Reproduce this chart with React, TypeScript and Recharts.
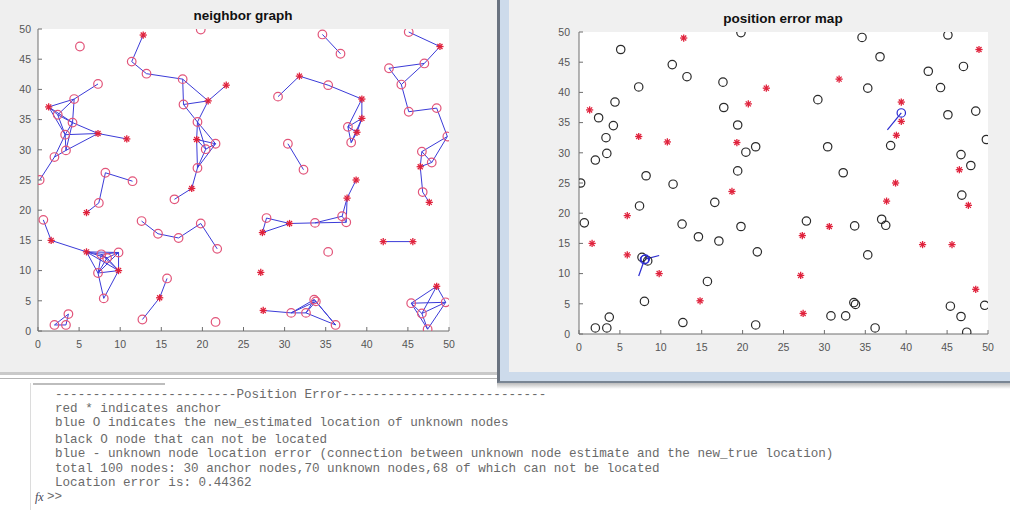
import { ScatterChart, Scatter, XAxis, YAxis, ReferenceLine } from 'recharts'

// node positions (same field, 50 x 50)
const anchors: [string, number, number][] = [
  ['A1', 12.8, 49.0], ['A2', 20.7, 38.1], ['A3', 1.3, 37.1], ['A4', 7.3, 32.7],
  ['A5', 10.8, 31.8], ['A6', 19.3, 31.7], ['A7', 18.7, 23.6], ['A8', 5.9, 19.6],
  ['A9', 1.6, 15.0], ['A10', 5.9, 13.1], ['A11', 9.8, 10.0], ['A12', 14.8, 5.5],
  ['A13', 48.9, 47.1], ['A14', 31.8, 42.2], ['A15', 22.9, 40.7], ['A16', 39.4, 38.4],
  ['A17', 39.4, 35.2], ['A18', 38.8, 32.9], ['A19', 46.5, 27.2], ['A20', 38.7, 25.0],
  ['A21', 37.6, 22.0], ['A22', 47.6, 21.3], ['A23', 30.6, 17.8], ['A24', 27.3, 16.3],
  ['A25', 42.0, 14.8], ['A26', 45.6, 14.8], ['A27', 27.1, 9.7], ['A28', 48.5, 7.4],
  ['A29', 27.4, 3.4],
]

const unknowns: [string, number, number][] = [
  ['U1', 19.8, 49.9], ['U2', 5.1, 47.1], ['U3', 11.4, 44.6], ['U4', 13.2, 42.6],
  ['U5', 17.6, 41.7], ['U6', 7.3, 40.9], ['U7', 4.4, 38.4], ['U8', 17.7, 37.5],
  ['U9', 2.4, 35.8], ['U10', 4.2, 34.5], ['U11', 19.4, 34.6], ['U12', 3.3, 32.5],
  ['U13', 21.6, 31.0], ['U14', 20.4, 30.1], ['U15', 3.4, 29.9], ['U16', 2.0, 28.8],
  ['U17', 8.2, 26.2], ['U18', 19.4, 27.0], ['U19', 0.2, 25.0], ['U20', 11.5, 24.8],
  ['U21', 7.4, 21.2], ['U22', 16.6, 21.8], ['U23', 0.65, 18.4], ['U24', 12.6, 18.2],
  ['U25', 19.8, 17.8], ['U26', 14.6, 16.1], ['U27', 17.1, 15.4], ['U28', 21.8, 13.6],
  ['U29', 15.7, 8.7], ['U30', 8.0, 5.4], ['U31', 3.7, 2.8], ['U32', 12.7, 1.9],
  ['U33', 2.0, 1.0], ['U34', 3.4, 1.0], ['U35', 21.6, 1.5], ['U36', 34.6, 49.1],
  ['U37', 45.1, 49.5], ['U38', 36.8, 45.9], ['U39', 42.7, 43.5], ['U40', 47.0, 44.3],
  ['U41', 35.3, 40.7], ['U42', 44.2, 40.8], ['U43', 29.2, 38.8], ['U44', 45.1, 36.3],
  ['U45', 48.5, 36.9], ['U46', 30.4, 31.0], ['U47', 38.1, 31.2], ['U48', 49.8, 32.2],
  ['U49', 46.7, 29.7], ['U50', 47.9, 27.9], ['U51', 32.3, 26.7], ['U52', 46.8, 23.0],
  ['U53', 27.8, 18.7], ['U54', 33.7, 17.9], ['U55', 37.0, 19.0], ['U56', 37.5, 18.0],
  ['U57', 35.3, 13.1], ['U58', 33.6, 5.2], ['U59', 33.8, 4.9], ['U60', 45.4, 4.6],
  ['U61', 49.6, 4.75], ['U62', 30.8, 3.0], ['U63', 32.6, 3.0], ['U64', 46.7, 2.9],
  ['U65', 36.2, 1.0], ['U66', 47.4, 0.3], ['U67', 7.7, 12.7], ['U68', 8.4, 12.1],
]

// unknown nodes that got located: true position and estimate
const located: [string, number, number][] = [
  ['L1', 9.8, 13.0], ['L2', 7.3, 9.6], ['L3', 37.7, 33.8],
]
const estimates: [string, number, number][] = [
  ['L1', 8.1, 12.4], ['L2', 8.0, 12.3], ['L3', 39.4, 36.6],
]

const edges: [string, string][] = [
  ['A3', 'U9'], ['A3', 'U7'], ['A3', 'U10'], ['A3', 'U12'], ['U9', 'U7'], ['U9', 'U10'],
  ['U9', 'U12'], ['U7', 'U6'], ['U7', 'U10'], ['U10', 'U12'], ['U10', 'A4'], ['U10', 'U15'],
  ['U12', 'U15'], ['U12', 'U16'], ['U12', 'A4'], ['U15', 'U16'], ['U15', 'A4'], ['U16', 'U19'],
  ['A4', 'A5'], ['U17', 'U20'], ['U17', 'U21'], ['U21', 'A8'],
  ['A1', 'U3'], ['U3', 'U4'], ['U4', 'U5'], ['U5', 'U8'], ['U5', 'A2'], ['U8', 'A2'],
  ['A2', 'A15'], ['U8', 'U11'], ['A2', 'U11'], ['U11', 'A6'], ['U11', 'U13'], ['U11', 'U14'],
  ['A6', 'U13'], ['A6', 'U14'], ['U13', 'U14'], ['A6', 'U18'], ['U14', 'U18'], ['U13', 'U18'],
  ['U18', 'A7'], ['A7', 'U22'],
  ['U24', 'U26'], ['U26', 'U27'], ['U27', 'U25'], ['U25', 'U28'],
  ['A9', 'U23'], ['A9', 'A10'], ['A10', 'L1'], ['A10', 'L2'], ['A10', 'A11'], ['L1', 'L2'],
  ['L1', 'A11'], ['L2', 'A11'], ['L2', 'U30'], ['A11', 'U30'], ['U67', 'A10'], ['U67', 'L1'],
  ['U67', 'L2'], ['U67', 'A11'], ['U67', 'U68'], ['U68', 'A10'], ['U68', 'L1'], ['U68', 'L2'],
  ['U68', 'A11'],
  ['U33', 'U34'], ['U34', 'U31'], ['U33', 'U31'], ['A12', 'U32'], ['A12', 'U29'],
  ['U36', 'U38'], ['U37', 'A13'], ['A13', 'U40'], ['U40', 'U39'], ['U40', 'U42'], ['U39', 'U42'],
  ['U42', 'U44'], ['U44', 'U45'], ['U45', 'U48'], ['U48', 'U49'], ['U48', 'U50'], ['U49', 'U50'],
  ['U49', 'A19'], ['U50', 'A19'], ['A19', 'U52'], ['U52', 'A22'],
  ['U41', 'A16'], ['A14', 'U41'], ['U43', 'A14'], ['A16', 'A17'], ['A16', 'L3'], ['A17', 'L3'],
  ['A17', 'A18'], ['L3', 'A18'], ['A18', 'U47'], ['A17', 'U47'], ['L3', 'U47'], ['U46', 'U51'],
  ['A20', 'A21'], ['A21', 'U55'], ['A21', 'U56'], ['U55', 'U56'], ['U55', 'U54'], ['U56', 'U54'],
  ['U54', 'A23'], ['A23', 'U53'], ['A23', 'A24'], ['U53', 'A24'], ['A25', 'A26'],
  ['A28', 'U60'], ['A28', 'U61'], ['U60', 'U61'], ['U60', 'U64'], ['U60', 'U66'], ['U61', 'U64'],
  ['U61', 'U66'], ['U64', 'U66'], ['A28', 'U64'],
  ['A29', 'U62'], ['U62', 'U63'], ['U62', 'U58'], ['U62', 'U59'], ['U63', 'U58'], ['U63', 'U59'],
  ['U58', 'U59'], ['U58', 'U65'], ['U59', 'U65'], ['U63', 'U65'],
]

const axisTicks = [0, 5, 10, 15, 20, 25, 30, 35, 40, 45, 50]

const consoleLines = [
  '------------------------Position Error---------------------------',
  'red * indicates anchor',
  'blue O indicates the new_estimated location of unknown nodes',
  'black O node that can not be located',
  'blue - unknown node location error (connection between unknown node estimate and the new_true location)',
  'total 100 nodes: 30 anchor nodes,70 unknown nodes,68 of which can not be located',
  'Location error is: 0.44362',
]
const consoleTops = [388, 402, 416, 433, 447, 462, 476]

const toPts = (rows: [string, number, number][]) => rows.map(([, x, y]) => ({ x, y }))
const pos: Record<string, { x: number; y: number }> = Object.fromEntries(
  [...anchors, ...unknowns, ...located].map(([id, x, y]) => [id, { x, y }])
)

const star = (color: string) => (p: any) => {
  const r = 3.6
  const d = r * 0.7
  return (
    <g stroke={color} strokeWidth={1.3}>
      <line x1={p.cx - r} y1={p.cy} x2={p.cx + r} y2={p.cy} />
      <line x1={p.cx} y1={p.cy - r} x2={p.cx} y2={p.cy + r} />
      <line x1={p.cx - d} y1={p.cy - d} x2={p.cx + d} y2={p.cy + d} />
      <line x1={p.cx - d} y1={p.cy + d} x2={p.cx + d} y2={p.cy - d} />
    </g>
  )
}
const ring = (color: string, r: number) => (p: any) => (
  <circle cx={p.cx} cy={p.cy} r={r} fill="none" stroke={color} strokeWidth={1.2} />
)

const axisColor = '#6e6e6e'
const tickFont = { fontSize: 10.5, fill: '#555', fontFamily: 'Liberation Sans, Arial, sans-serif' }

function axes(yMargin: number) {
  return [
    <XAxis key="xb" type="number" dataKey="x" domain={[0, 50]} ticks={axisTicks} interval={0}
      allowDataOverflow height={30} tickSize={-4} tickMargin={13.5} tick={tickFont}
      axisLine={{ stroke: axisColor }} tickLine={{ stroke: axisColor }} />,
    <XAxis key="xt" xAxisId="t" orientation="top" type="number" domain={[0, 50]} ticks={axisTicks}
      interval={0} allowDataOverflow height={0} tickSize={-4} tickFormatter={() => ''}
      axisLine={{ stroke: axisColor }} tickLine={{ stroke: axisColor }} />,
    <YAxis key="yl" type="number" dataKey="y" domain={[0, 50]} ticks={axisTicks} interval={0}
      allowDataOverflow width={30} tickSize={-4} tickMargin={yMargin} tick={tickFont}
      axisLine={{ stroke: axisColor }} tickLine={{ stroke: axisColor }} />,
    <YAxis key="yr" yAxisId="r" orientation="right" type="number" domain={[0, 50]} ticks={axisTicks}
      interval={0} allowDataOverflow width={0} tickSize={-4} tickFormatter={() => ''}
      axisLine={{ stroke: axisColor }} tickLine={{ stroke: axisColor }} />,
  ]
}

const titleStyle: React.CSSProperties = {
  position: 'absolute', fontFamily: 'Liberation Sans, Arial, sans-serif', fontWeight: 'bold',
  fontSize: 13.5, color: '#111', textAlign: 'center', width: 300,
}

export default function App() {
  return (
    <div style={{ position: 'absolute', left: 0, top: 0, width: 1010, height: 510, overflow: 'hidden', background: '#fff' }}>
      {/* left figure window */}
      <div style={{ position: 'absolute', left: 0, top: 0, width: 497, height: 372, background: '#efefef' }} />
      <div style={{ position: 'absolute', left: 38, top: 29, width: 411, height: 302, background: '#fff' }} />
      <div style={{ ...titleStyle, left: 93, top: 8 }}>neighbor graph</div>
      <div style={{ position: 'absolute', left: 0, top: 0 }}>
        <ScatterChart width={497} height={372} margin={{ top: 29, right: 48, bottom: 11, left: 8 }}>
          {axes(11)}
          {edges.map(([a, b], i) => (
            <ReferenceLine key={i} segment={[pos[a], pos[b]]} stroke="#3b3bd8" strokeWidth={1} ifOverflow="visible" />
          ))}
          <Scatter data={[...toPts(unknowns), ...toPts(located)]} shape={ring('#e2557a', 4.3)} isAnimationActive={false} />
          <Scatter data={toPts(anchors)} shape={star('#e0223c')} isAnimationActive={false} />
        </ScatterChart>
      </div>

      {/* right figure window */}
      <div style={{ position: 'absolute', left: 497, top: 0, width: 513, height: 383, background: '#cddbeb', borderLeft: '3px solid #6a7380', borderBottom: '2px solid #7a8694', boxSizing: 'border-box' }} />
      <div style={{ position: 'absolute', left: 509, top: 0, width: 501, height: 372, background: '#f0f0f0' }} />
      <div style={{ position: 'absolute', left: 579, top: 32, width: 409, height: 302, background: '#fff' }} />
      <div style={{ ...titleStyle, left: 633, top: 11 }}>position error map</div>
      <div style={{ position: 'absolute', left: 509, top: 0 }}>
        <ScatterChart width={501} height={372} margin={{ top: 32, right: 22, bottom: 8, left: 40 }}>
          {axes(13)}
          <Scatter data={toPts(unknowns)} shape={ring('#2a2a2a', 4.2)} isAnimationActive={false} />
          <Scatter data={toPts(anchors)} shape={star('#e0223c')} isAnimationActive={false} />
          {estimates.map(([id, x, y]) => (
            <ReferenceLine key={id} segment={[{ x, y }, pos[id]]} stroke="#2b2bd0" strokeWidth={1.2} ifOverflow="visible" />
          ))}
          <Scatter data={toPts(estimates)} shape={ring('#2b2bd0', 4.2)} isAnimationActive={false} />
        </ScatterChart>
      </div>

      {/* separators above the command window */}
      <div style={{ position: 'absolute', left: 0, top: 372, width: 497, height: 3, background: '#c9c9c9' }} />
      <div style={{ position: 'absolute', left: 0, top: 378, width: 497, height: 1, background: '#b5b5b5' }} />
      <div style={{ position: 'absolute', left: 497, top: 383, width: 513, height: 6, background: 'linear-gradient(#bbb, #fff)' }} />
      <div style={{ position: 'absolute', left: 33, top: 383, width: 132, height: 2, background: '#bdbdbd' }} />
      <div style={{ position: 'absolute', left: 30, top: 383, width: 1, height: 127, background: '#dcdcdc' }} />

      {/* command window text */}
      {consoleLines.map((t, i) => (
        <div key={i} style={{ position: 'absolute', left: 55, top: consoleTops[i], fontFamily: 'Liberation Mono, monospace', fontSize: 12.6, lineHeight: '15px', color: '#6a6a6a', whiteSpace: 'pre' }}>
          {t}
        </div>
      ))}
      <div style={{ position: 'absolute', left: 35, top: 490, fontFamily: 'Liberation Serif, serif', fontStyle: 'italic', fontSize: 12, color: '#445', lineHeight: '15px' }}>fx</div>
      <div style={{ position: 'absolute', left: 47, top: 490, fontFamily: 'Liberation Mono, monospace', fontSize: 12.6, color: '#6a6a6a', lineHeight: '15px' }}>&gt;&gt;</div>
    </div>
  )
}
